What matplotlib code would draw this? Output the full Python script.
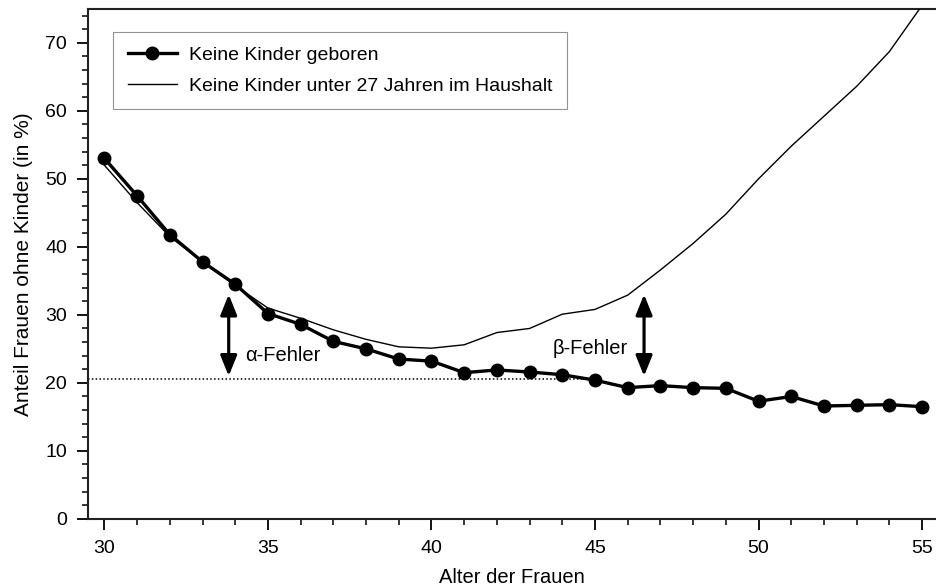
import matplotlib.pyplot as plt
from matplotlib.ticker import MultipleLocator

plt.rcParams['font.family'] = ['Liberation Sans', 'DejaVu Sans']

# Daten
alter = [30, 31, 32, 33, 34, 35, 36, 37, 38, 39, 40, 41, 42,
         43, 44, 45, 46, 47, 48, 49, 50, 51, 52, 53, 54, 55]
keine_geboren = [53.0, 47.5, 41.8, 37.8, 34.5, 30.2, 28.6, 26.1, 25.0, 23.5,
                 23.2, 21.5, 21.9, 21.6, 21.2, 20.4, 19.3, 19.6, 19.3, 19.2,
                 17.3, 18.0, 16.6, 16.7, 16.8, 16.5]
keine_im_haushalt = [52.0, 46.5, 41.5, 37.8, 34.3, 31.0, 29.5, 27.8, 26.4, 25.3,
                     25.1, 25.6, 27.4, 28.0, 30.1, 30.8, 32.9, 36.6, 40.5, 44.8,
                     50.0, 54.8, 59.2, 63.6, 68.7, 75.5]
referenz_wert = 20.5
referenz_bis = 45
fehler = [(33.8, "α-Fehler"), (46.5, "β-Fehler")]
fehler_von, fehler_bis = 21.0, 33.0

fig = plt.figure(figsize=(9.37, 5.87), dpi=100, facecolor='white')
ax = fig.add_axes([0.094, 0.116, 0.904, 0.869])

ax.plot(alter, keine_geboren, color='black', lw=2.4, marker='o',
        markersize=9, zorder=4, label='Keine Kinder geboren')
ax.plot(alter, keine_im_haushalt, color='black', lw=1.0, zorder=3,
        label='Keine Kinder unter 27 Jahren im Haushalt')

# gepunktete Referenzlinie
ax.plot([29.5, referenz_bis], [referenz_wert, referenz_wert],
        color='black', lw=1.1, linestyle=(0, (1, 1.5)), zorder=2)

# Fehlerpfeile
for x, text in fehler:
    ax.annotate('', xy=(x, fehler_von), xytext=(x, fehler_bis),
                arrowprops=dict(arrowstyle='<|-|>,head_length=0.62,head_width=0.25',
                                color='black', lw=2.3,
                                mutation_scale=20, shrinkA=0, shrinkB=0))
ax.text(34.3, 24.0, fehler[0][1], fontsize=14.5, va='center', ha='left')
ax.text(46.0, 25.1, fehler[1][1], fontsize=14.5, va='center', ha='right')

ax.set_xlim(29.5, 55.4)
ax.set_ylim(0, 75)
ax.xaxis.set_major_locator(MultipleLocator(5))
ax.xaxis.set_minor_locator(MultipleLocator(1))
ax.yaxis.set_major_locator(MultipleLocator(10))
ax.yaxis.set_minor_locator(MultipleLocator(2))
ax.tick_params(which='major', direction='out', length=8, width=1.3, labelsize=14)
ax.tick_params(which='minor', direction='out', length=4.5, width=1.1)
ax.tick_params(axis='x', pad=7)
ax.tick_params(axis='y', pad=7)

for side in ['left', 'bottom', 'top']:
    ax.spines[side].set_linewidth(1.5)
    ax.spines[side].set_color('#222222')
ax.spines['right'].set_visible(False)

ax.set_xlabel('Alter der Frauen', fontsize=14.5, labelpad=8)
ax.set_ylabel('Anteil Frauen ohne Kinder (in %)', fontsize=15, labelpad=9)

leg = ax.legend(loc='upper left', bbox_to_anchor=(0.0295, 0.955), fontsize=14,
                frameon=True, fancybox=False, edgecolor='#777777',
                handlelength=2.55, borderpad=0.75, labelspacing=0.68,
                handletextpad=0.6, borderaxespad=0)
leg.get_frame().set_linewidth(0.8)

fig.savefig('out.png', dpi=100, facecolor='white')
